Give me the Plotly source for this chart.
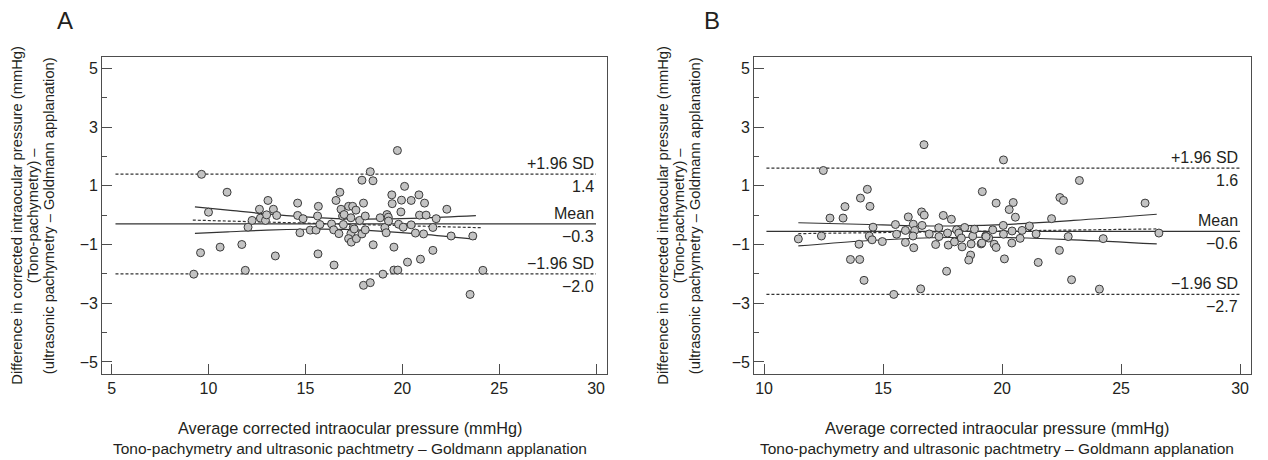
import plotly.graph_objects as go

# ---------------- data ----------------
a_x = [9.64, 10.96, 10.0, 9.59, 9.24, 10.6, 11.72, 11.9, 12.04, 12.25, 12.63, 12.68, 12.94, 13.07, 13.0,
       13.35, 13.52, 13.45, 14.6, 14.6, 14.88, 14.72, 15.25, 15.55, 15.67, 15.63, 15.75, 15.65, 16.48, 16.58,
       16.78, 16.84, 16.92, 17.0, 16.35, 16.46, 16.73, 16.96, 17.23, 17.44, 17.61, 17.35, 17.47, 17.35, 17.23,
       17.37, 17.63, 17.8, 17.92, 18.0, 18.09, 18.09, 17.92, 18.35, 18.49, 18.0, 18.35, 18.5, 18.86, 19.0,
       19.1, 19.21, 19.28, 19.29, 19.17, 19.46, 19.48, 19.75, 19.57, 19.57, 19.77, 19.96, 19.93, 20.12, 19.81,
       20.05, 20.27, 20.46, 20.86, 21.15, 20.89, 21.23, 21.75, 22.3, 20.46, 21.58, 20.68, 21.1, 22.52, 23.64,
       21.58, 20.94, 24.16, 23.5, 17.52]
a_y = [1.39, 0.78, 0.10, -1.28, -2.01, -1.09, -1.0, -1.88, -0.41, -0.18, 0.20, -0.10, -0.18, 0.50, 0.01,
       0.20, -0.01, -1.39, 0.41, -0.01, -0.12, -0.60, -0.51, -0.51, 0.30, -0.03, -0.32, -1.32, -1.70, 0.50,
       0.78, 0.20, -0.03, 0.02, -0.30, -0.50, -0.63, -0.32, 0.30, 0.30, 0.17, -0.09, -0.42, -0.63, -0.80,
       -0.92, -0.80, -0.18, -0.64, 0.41, -0.03, -0.50, 1.19, 1.48, 1.17, -2.39, -2.30, -1.01, -0.09, -2.01,
       -0.42, 0.02, -0.07, -0.20, -0.60, 0.69, 0.39, 2.20, -1.09, -1.87, -1.87, 0.51, 0.11, 0.98, -0.31,
       -0.41, -1.60, 0.50, 0.69, 0.41, 0.0, 0.0, -0.12, 0.20, -0.33, -0.42, -0.61, -0.64, -0.71, -0.71,
       -1.20, -1.50, -1.88, -2.70, -0.47]

b_x = [12.49, 16.72, 11.44, 12.41, 12.77, 13.32, 13.4, 14.05, 14.34, 14.45, 14.58, 14.42, 14.54, 13.99, 13.63,
       14.02, 14.2, 14.97, 15.45, 15.52, 15.57, 15.94, 15.94, 16.06, 16.27, 16.33, 16.26, 16.29, 16.62, 16.73,
       16.64, 16.58, 16.94, 17.21, 17.34, 17.35, 17.53, 17.71, 17.74, 17.87, 17.67, 18.0, 18.09, 18.18, 18.29,
       18.32, 18.43, 18.77, 18.84, 18.7, 18.68, 18.6, 19.12, 19.17, 19.31, 19.44, 20.06, 19.75, 20.47, 20.3,
       20.56, 20.05, 19.61, 20.06, 20.42, 20.84, 21.15, 20.76, 21.43, 19.33, 19.15, 19.67, 19.75, 20.41, 20.1,
       21.52, 22.08, 22.43, 22.58, 23.25, 22.41, 22.78, 22.92, 24.25, 24.09, 26.01, 26.59]
b_y = [1.52, 2.40, -0.81, -0.71, -0.10, -0.10, 0.29, 0.58, 0.88, 0.30, -0.41, -0.71, -0.84, -0.99, -1.51,
       -1.51, -2.22, -0.90, -2.70, -0.32, -0.65, -0.52, -0.93, -0.06, -0.31, -0.52, -0.71, -1.11, 0.11, 0.0,
       -0.35, -2.51, -0.64, -1.0, -0.43, -0.73, -0.01, -0.61, -1.02, -0.14, -1.91, -0.91, -0.50, -0.61, -0.78,
       -1.08, -0.42, -0.71, -0.48, -0.98, -1.36, -1.53, -0.98, 0.80, -0.71, -0.78, 1.88, 0.41, 0.43, 0.19,
       -0.07, -0.35, -0.50, -0.65, -0.54, -0.52, -0.37, -0.79, -0.64, -0.73, -0.95, -0.99, -1.10, -0.95, -1.49,
       -1.61, -0.12, 0.60, 0.50, 1.18, -1.20, -0.73, -2.20, -0.80, -2.52, 0.41, -0.61]

# Bland-Altman summary values
a_mean, a_upper, a_lower = -0.30, 1.40, -2.00
b_mean, b_upper, b_lower = -0.55, 1.60, -2.70
a_labels = ["+1.96 SD", "1.4", "Mean", "\u22120.3", "\u22121.96 SD", "\u22122.0"]
b_labels = ["+1.96 SD", "1.6", "Mean", "\u22120.6", "\u22121.96 SD", "\u22122.7"]
a_span = [5.2, 30]
b_span = [10.1, 30]

a_reg_x = [9.19, 24.14]
a_reg_y = [-0.17, -0.43]
a_ci_x = [9.3, 11, 13, 15, 17, 19, 21, 23.8]
a_ci_up = [0.28, 0.17, 0.04, -0.06, -0.125, -0.13, -0.10, -0.02]
a_ci_lo = [-0.62, -0.57, -0.51, -0.48, -0.485, -0.55, -0.65, -0.83]

b_reg_x = [11.44, 26.5]
b_reg_y = [-0.63, -0.47]
b_ci_x = [11.44, 14, 17, 20, 23, 26.5]
b_ci_up = [-0.26, -0.31, -0.37, -0.32, -0.18, 0.03]
b_ci_lo = [-1.05, -0.89, -0.77, -0.76, -0.84, -0.98]

y_ticks = [-5, -3, -1, 1, 3, 5]
y_ticktext = ["\u22125", "\u22123", "\u22121", "1", "3", "5"]
a_xticks = [5, 10, 15, 20, 25, 30]
b_xticks = [10, 15, 20, 25, 30]

ytitle = ["Difference in corrected intraocular pressure (mmHg)",
          "(Tono-pachymetry) \u2013",
          "(ultrasonic pachymetry \u2013 Goldmann applanation)"]
xtitle = ["Average corrected intraocular pressure (mmHg)",
          "Tono-pachymetry and ultrasonic pachtmetry \u2013 Goldmann applanation"]

# ---------------- figure ----------------
FONT = "Liberation Sans, Arial, sans-serif"
TXT = "#231f20"
AX = "#4d4d4d"
OFF = 8                      # page body margin of the browser
W, H = 1268 - OFF, 460 - OFF

def px_x(p):
    return (p - OFF) / W

def px_y(p):
    return 1 - (p - OFF) / H

fig = go.Figure()

def add_panel(xs, ys, mean, up, lo, span, reg_x, reg_y, ci_x, ci_up, ci_lo, labels, xa, ya):
    kw = dict(xaxis=xa, yaxis=ya, mode="lines", hoverinfo="skip", showlegend=False)
    fig.add_trace(go.Scatter(x=span, y=[mean, mean], line=dict(color="#333", width=1.3), **kw))
    for v in (up, lo):
        fig.add_trace(go.Scatter(x=span, y=[v, v], line=dict(color="#333", width=1.2, dash="3px,2px"), **kw))
    fig.add_trace(go.Scatter(x=reg_x, y=reg_y, line=dict(color="#333", width=1.2, dash="3px,2px"), **kw))
    fig.add_trace(go.Scatter(x=ci_x, y=ci_up, line=dict(color="#333", width=1.2, shape="spline"), **kw))
    fig.add_trace(go.Scatter(x=ci_x, y=ci_lo, line=dict(color="#333", width=1.2, shape="spline"), **kw))
    fig.add_trace(go.Scatter(x=xs, y=ys, xaxis=xa, yaxis=ya, mode="markers", showlegend=False,
                             marker=dict(size=8, color="#c3c3c3", line=dict(color="#3a3a3a", width=1))))
    for i, v in enumerate((up, mean, lo)):
        fig.add_annotation(x=span[1], y=v, xref=xa, yref=ya, text=labels[2 * i], showarrow=False,
                           xanchor="right", yanchor="bottom", yshift=0,
                           font=dict(family=FONT, size=16, color=TXT))
        fig.add_annotation(x=span[1], y=v, xref=xa, yref=ya, text=labels[2 * i + 1], showarrow=False,
                           xanchor="right", yanchor="top", yshift=-2,
                           font=dict(family=FONT, size=16, color=TXT))

add_panel(a_x, a_y, a_mean, a_upper, a_lower, a_span, a_reg_x, a_reg_y, a_ci_x, a_ci_up, a_ci_lo, a_labels, "x", "y")
add_panel(b_x, b_y, b_mean, b_upper, b_lower, b_span, b_reg_x, b_reg_y, b_ci_x, b_ci_up, b_ci_lo, b_labels, "x2", "y2")

# plot area geometry (page pixels)
top, bot = 57.3, 374.0
ydom = [px_y(bot), px_y(top)]
a_dom = [px_x(102.3), px_x(606.7)]
b_dom = [px_x(754.3), px_x(1251.0)]

common_x = dict(showgrid=False, zeroline=False, showline=True, linecolor=AX, linewidth=1.3, mirror=True,
                ticks="inside", ticklen=10, tickwidth=1.2, tickcolor=AX,
                tickfont=dict(family=FONT, size=16, color=TXT))
common_y = dict(common_x, tickvals=y_ticks, ticktext=y_ticktext, range=[-5.41, 5.375],
                minor=dict(ticks="inside", ticklen=5, tickwidth=1.1, tickcolor=AX, dtick=1, tick0=0, showgrid=False))

fig.update_layout(
    width=W, height=H, margin=dict(l=0, r=0, t=0, b=0),
    paper_bgcolor="white", plot_bgcolor="white",
    xaxis=dict(common_x, domain=a_dom, range=[4.52, 30.55], tickvals=a_xticks, anchor="y"),
    yaxis=dict(common_y, domain=ydom, anchor="x"),
    xaxis2=dict(common_x, domain=b_dom, range=[9.59, 30.46], tickvals=b_xticks, anchor="y2"),
    yaxis2=dict(common_y, domain=ydom, anchor="x2"),
)

# panel letters
for letter, px in (("A", 65), ("B", 712)):
    fig.add_annotation(x=px_x(px), y=px_y(20), xref="paper", yref="paper", text=letter, showarrow=False,
                       xanchor="center", yanchor="middle", font=dict(family=FONT, size=24, color=TXT))

# axis titles
ymid = px_y((top + bot) / 2)
for xs_px, xc in (((17, 32.5, 48.5), 350), ((663, 678.5, 694.5), 997)):
    for line, px in zip(ytitle, xs_px):
        fig.add_annotation(x=px_x(px), y=ymid, xref="paper", yref="paper", text=line, showarrow=False,
                           textangle=-90, xanchor="center", yanchor="middle",
                           font=dict(family=FONT, size=14.7, color=TXT))
    for line, py, fs in zip(xtitle, (428, 448), (16.3, 15.5)):
        fig.add_annotation(x=px_x(xc), y=px_y(py), xref="paper", yref="paper", text=line, showarrow=False,
                           xanchor="center", yanchor="middle", font=dict(family=FONT, size=fs, color=TXT))

fig.write_html("out.html")
